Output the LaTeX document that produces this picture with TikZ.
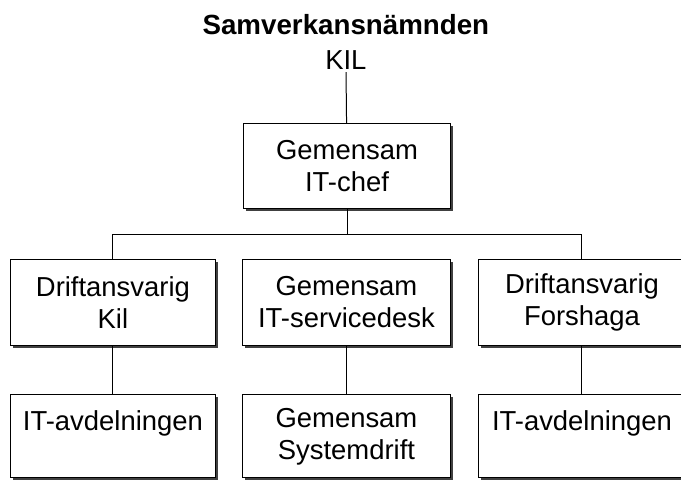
\documentclass[tikz,border=0pt]{standalone}
\usepackage{fontspec}
\setmainfont{Liberation Sans}
\usepackage{tikz}
\usetikzlibrary{shadows}

\begin{document}
\begin{tikzpicture}[
	box/.style={draw, line width=1pt, fill=white, align=center,
		minimum width=7.3cm, minimum height=3cm, inner sep=0pt,
		font=\fontsize{27.5}{32}\selectfont,
		drop shadow={shadow xshift=2.5pt, shadow yshift=-2.5pt, fill=black!75, opacity=1}},
	lowbox/.style={box, minimum height=2.93cm},
	wire/.style={line width=1pt}
]
	%\draw[help lines] (0,0) grid (24,-17);
	\useasboundingbox (0,0) rectangle (24,-16.95);
	\clip (0,0) rectangle (24,-16.95);
	\node[anchor=base, font=\fontsize{27.8}{32}\selectfont\bfseries] (board) at (12.19,-1.233) {Samverkansnämnden};
	\node[anchor=base, font=\fontsize{27.5}{32}\selectfont, inner sep=2pt] (kil) at (12.19,-2.467) {KIL};
	\node[box] (chef) at (12.23,-5.85) {Gemensam\\IT-chef};
	\coordinate (bus) at (12.23,-8.28);
	\node[box, minimum width=7.2cm] (driftkil) at (3.98,-10.66) {Driftansvarig\\Kil};
	\node[box] (desk) at (12.21,-10.66) {Gemensam\\IT-servicedesk};
	\node[box] (driftfors) at (20.51,-10.66) {Driftansvarig\\Forshaga};
	\node[lowbox, minimum width=7.2cm] (itkil) at (3.98,-15.38) {IT-avdelningen\\\mbox{}};
	\node[lowbox] (sysdrift) at (12.21,-15.38) {Gemensam\\Systemdrift};
	\node[lowbox] (itfors) at (20.51,-15.38) {IT-avdelningen\\\mbox{}};
	\draw[wire] (kil) -- (chef);
	\draw[wire] (chef) -- (chef |- bus);
	\draw[wire] (driftkil) |- (bus) -| (driftfors);
	\draw[wire] (driftkil) -- (itkil);
	\draw[wire] (desk) -- (sysdrift);
	\draw[wire] (driftfors) -- (itfors);
\end{tikzpicture}
\end{document}
